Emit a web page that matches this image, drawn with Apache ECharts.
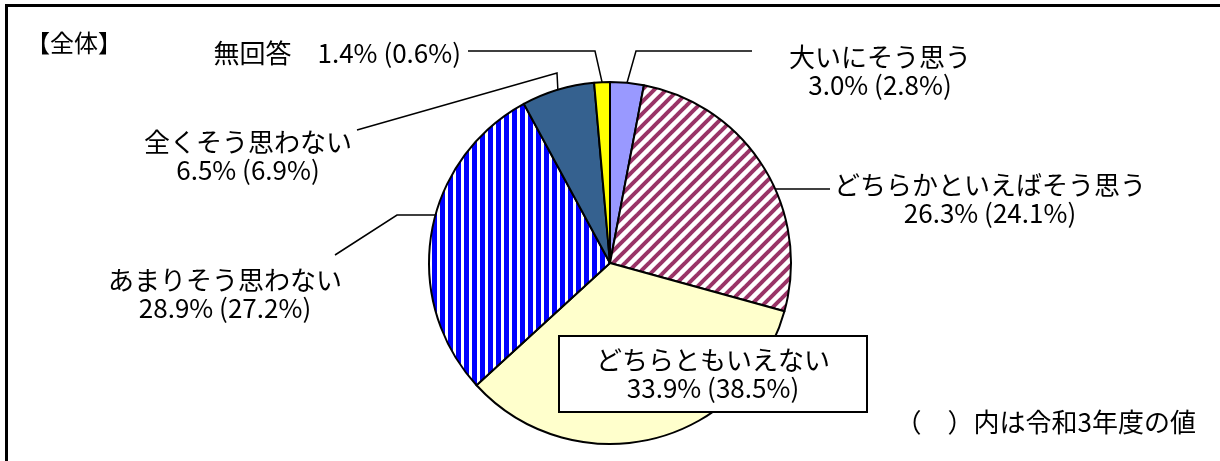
<!DOCTYPE html>
<html>
<head>
<meta charset="utf-8">
<script src="https://cdn.jsdelivr.net/npm/echarts@6/dist/echarts.min.js"></script>
<style>
html,body{margin:0;padding:0;background:#fff;}
#chart{width:1220px;height:461px;}
</style>
</head>
<body>
<div id="chart"></div>
<script>
// ---- data ----
var categories = ['大いにそう思う', 'どちらかといえばそう思う', 'どちらともいえない', 'あまりそう思わない', '全くそう思わない', '無回答'];
var values2023 = [3.0, 26.3, 33.9, 28.9, 6.5, 1.4];
var valuesR3 = [2.8, 24.1, 38.5, 27.2, 6.9, 0.6];
var titleText = '【全体】';
var noteText = '（　）内は令和3年度の値';

// ---- layout / style ----
var CX = 610, CY = 263, R = 181;
var FONT = "'Noto Sans CJK JP', 'Noto Sans', sans-serif";
var labelConf = [
  {x: 880, y: 71, align: 'center', line: [[636, 51], [752, 51]], attach: 'mid'},
  {x: 990, y: 199, align: 'center', line: [[805, 189], [830, 189]], attach: 'y', side: 1},
  {x: 713, y: 374, align: 'center', line: null},
  {x: 225, y: 294, align: 'center', line: [[397, 215], [335, 255]], attach: 'y', side: -1},
  {x: 248, y: 156, align: 'center', line: [[557, 73], [357, 130]], attach: 'mid'},
  {x: 461, y: 53, align: 'right', line: [[595, 51], [468, 51]], attach: 'mid'}
];

function stripeV() {
  var c = document.createElement('canvas'); c.width = 8; c.height = 8;
  var g = c.getContext('2d');
  g.fillStyle = '#ffffff'; g.fillRect(0, 0, 8, 8);
  g.fillStyle = '#0000ff'; g.fillRect(0, 0, 5, 8);
  return c;
}
function stripeD() {
  var s = 12;
  var c = document.createElement('canvas'); c.width = s; c.height = s;
  var g = c.getContext('2d');
  g.fillStyle = '#ffffff'; g.fillRect(0, 0, s, s);
  g.strokeStyle = '#993366'; g.lineWidth = 4;
  [[0, s, s, 0], [-s / 2, s / 2, s / 2, -s / 2], [s / 2, s * 1.5, s * 1.5, s / 2]].forEach(function (l) {
    g.beginPath(); g.moveTo(l[0], l[1]); g.lineTo(l[2], l[3]); g.stroke();
  });
  return c;
}
var fills = [
  '#9999ff',
  {image: stripeD(), repeat: 'repeat'},
  '#ffffcc',
  {image: stripeV(), repeat: 'repeat'},
  '#35618f',
  '#ffff00'
];

var total = values2023.reduce(function (a, b) { return a + b; }, 0);
function midAngle(i) {
  var s = 0;
  for (var k = 0; k < i; k++) s += values2023[k];
  return ((s + values2023[i] / 2) / total) * Math.PI * 2;
}

var data = categories.map(function (name, i) {
  var d = {
    name: name,
    value: values2023[i],
    itemStyle: {color: fills[i]}
  };
  if (i === 2) {
    d.label = {
      backgroundColor: '#ffffff',
      borderColor: '#000000',
      borderWidth: 2,
      padding: [9, 0, 9, 0],
      width: 306
    };
    d.labelLine = {show: false};
  }
  return d;
});

var chart = echarts.init(document.getElementById('chart'), null, {renderer: 'canvas'});
chart.setOption({
  animation: false,
  backgroundColor: '#ffffff',
  graphic: [
    {type: 'rect', shape: {x: 6.5, y: 5.5, width: 1400, height: 600}, style: {fill: 'none', stroke: '#000', lineWidth: 3}, z: 100},
    {type: 'text', x: 74, y: 43, style: {text: titleText, font: '24px ' + FONT, fill: '#000', align: 'center', verticalAlign: 'middle'}},
    {type: 'text', x: 1196, y: 422, style: {text: noteText, font: '26px ' + FONT, fill: '#000', align: 'right', verticalAlign: 'middle'}}
  ],
  series: [{
    type: 'pie',
    center: [CX, CY],
    radius: R,
    startAngle: 90,
    clockwise: true,
    avoidLabelOverlap: false,
    minShowLabelAngle: 0,
    itemStyle: {borderColor: '#000', borderWidth: 2},
    label: {
      show: true,
      position: 'outside',
      color: '#000',
      fontFamily: FONT,
      fontSize: 26,
      lineHeight: 28,
      align: 'center',
      formatter: function (p) {
        var i = p.dataIndex;
        var nums = values2023[i].toFixed(1) + '% (' + valuesR3[i].toFixed(1) + '%)';
        if (i === 5) return p.name + '　' + nums;
        return p.name + '\n' + nums;
      }
    },
    labelLine: {show: true, lineStyle: {color: '#000', width: 1.5}},
    emphasis: {disabled: true},
    labelLayout: function (params) {
      var i = params.dataIndex;
      var c = labelConf[i];
      var out = {x: c.x, y: c.y, align: c.align, verticalAlign: 'middle', hideOverlap: false, moveOverlap: false};
      if (c.line) {
        var start;
        if (c.attach === 'y') {
          var yy = c.line[0][1];
          var dx = Math.sqrt(R * R - (yy - CY) * (yy - CY));
          start = [CX + c.side * dx, yy];
        } else {
          var a = midAngle(i);
          start = [CX + R * Math.sin(a), CY - R * Math.cos(a)];
        }
        out.labelLinePoints = [start, c.line[0], c.line[1]];
      }
      return out;
    },
    data: data
  }]
});
</script>
</body>
</html>
